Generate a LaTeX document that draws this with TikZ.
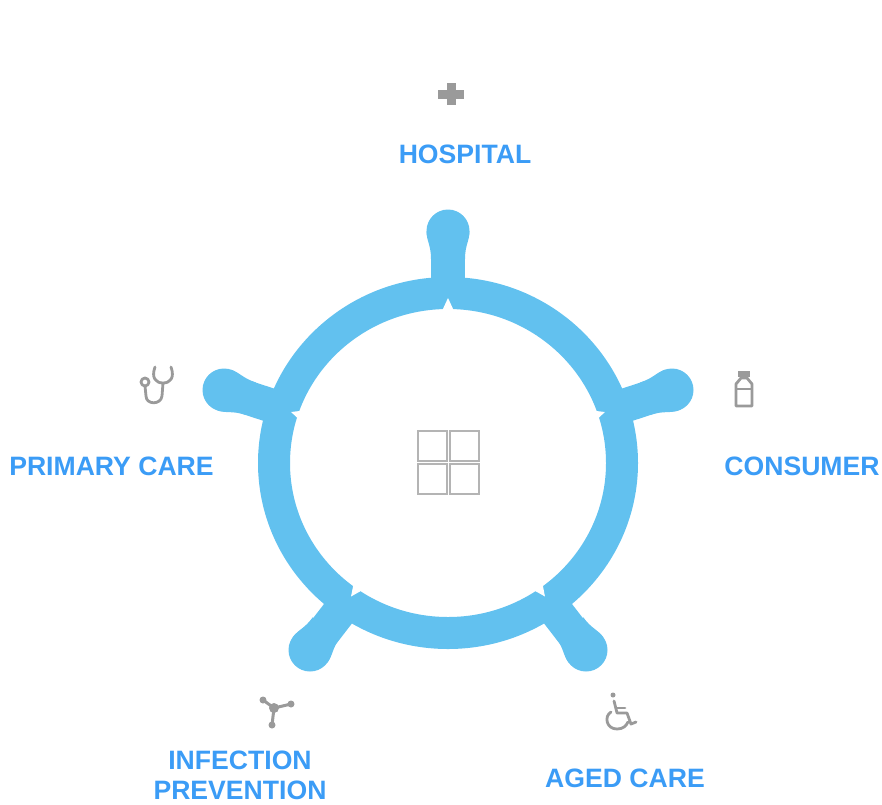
\documentclass[tikz,border=0pt]{standalone}
\usepackage{fontspec}
\usetikzlibrary{shapes.geometric}
\setmainfont{Liberation Sans}
\definecolor{ringblue}{HTML}{62C1EF}
\definecolor{labelblue}{HTML}{3B9CF6}
\definecolor{icongray}{HTML}{9A9A9A}
\definecolor{gridgray}{HTML}{B4B4B4}
\tikzset{
  wheel/.style={ellipse, draw=ringblue, line width=32pt, minimum width=348pt, minimum height=340pt, inner sep=0pt, outer sep=0pt},
  knob/.style={circle, fill=ringblue, minimum size=43pt, inner sep=0pt, outer sep=0pt},
  spoke/.style={draw=ringblue, line width=34pt},
  area/.style={font=\fontsize{26.6}{30}\selectfont\bfseries, text=labelblue, align=center, inner sep=0pt},
  icon/.style={draw=icongray, line width=2.8pt, line cap=round, line join=round},
  pane/.style={draw=gridgray, line width=2.5pt}
}
\begin{document}
\begin{tikzpicture}[x=1pt, y=-1pt]
  \useasboundingbox (0,0) rectangle (882,804);
  \node[wheel](hub) at (448,463){};
  \node[knob](kHospital) at (448,231){};
  \node[knob](kConsumer) at (672,390){};
  \node[knob](kPrimary) at (224,390){};
  \node[knob](kInfection) at (310,650){};
  \node[knob](kAged) at (586,650){};
  \path[spoke](hub.90) -- (kHospital.center);
  \path[spoke](hub.18) -- (kConsumer.center);
  \path[spoke](hub.162) -- (kPrimary.center);
  \path[spoke](hub.234) -- (kInfection.center);
  \path[spoke](hub.306) -- (kAged.center);
  % necks under the knobs
  \foreach \k/\a in {kHospital/90,kConsumer/18,kPrimary/162,kInfection/234,kAged/306}
    \fill[ringblue, shift={(\k.center)}, rotate=\a] (0,21.5) .. controls (-10,21.5) and (-14,17) .. (-28,17) -- (-28,-17) .. controls (-14,-17) and (-10,-21.5) .. (0,-21.5) -- cycle;
  % white nicks on the inner edge
  \foreach \a in {90,18,162,234,306}
    \fill[white, shift={(hub)}, rotate=\a] (165,0) -- (152,6) -- (152,-6) -- cycle;
  % centre panes
  \draw[pane] (418,431) rectangle (447,461);
  \draw[pane] (450,431) rectangle (479,461);
  \draw[pane] (418,464) rectangle (447,494);
  \draw[pane] (450,464) rectangle (479,494);
  % hospital cross
  \draw[icongray, line width=9pt] (438,94) -- (464,94);
  \draw[icongray, line width=9pt] (451,83) -- (451,105);
  % stethoscope
  \draw[icon] (155,367) .. controls (151,378) and (156,383) .. (163,383) .. controls (170,383) and (175,378) .. (171,367);
  \draw[icon] (163,383) -- (162,396) .. controls (161,405) and (146,405) .. (146,396) -- (145,386);
  \draw[icon] (145,382) circle[radius=4];
  % bottle
  \fill[icongray] (738,371) rectangle (750,377);
  \draw[icon] (741,378) -- (736,384) -- (736,406) -- (752,406) -- (752,384) -- (747,378) -- cycle;
  \draw[icon, line width=1.5pt] (736,389) -- (752,389);
  % molecule
  \draw[icon, line width=3pt] (263,700) -- (274,708) -- (291,704);
  \draw[icon, line width=3pt] (274,708) -- (272,725);
  \fill[icongray] (274,708) circle[radius=5];
  \fill[icongray] (263,700) circle[radius=3.5];
  \fill[icongray] (291,704) circle[radius=3.5];
  \fill[icongray] (272,725) circle[radius=3.5];
  % wheelchair
  \fill[icongray] (613,695) circle[radius=2.5];
  \draw[icon] (614,701) -- (617,713) -- (627,713) -- (631,724) -- (636,722);
  \draw[icon] (616,708) -- (625,708);
  \draw[icon] (611,712) .. controls (604,716) and (606,729) .. (617,729) .. controls (623,729) and (626,726) .. (628,722);
  % labels
  \node[area](lHospital) at (465,154){HOSPITAL};
  \node[area](lConsumer) at (802,466){CONSUMER};
  \node[area](lPrimary) at (111.5,466){PRIMARY CARE};
  \node[area](lInfection) at (240,775){INFECTION\\PREVENTION};
  \node[area](lAged) at (625,778){AGED CARE};
\end{tikzpicture}
\end{document}
